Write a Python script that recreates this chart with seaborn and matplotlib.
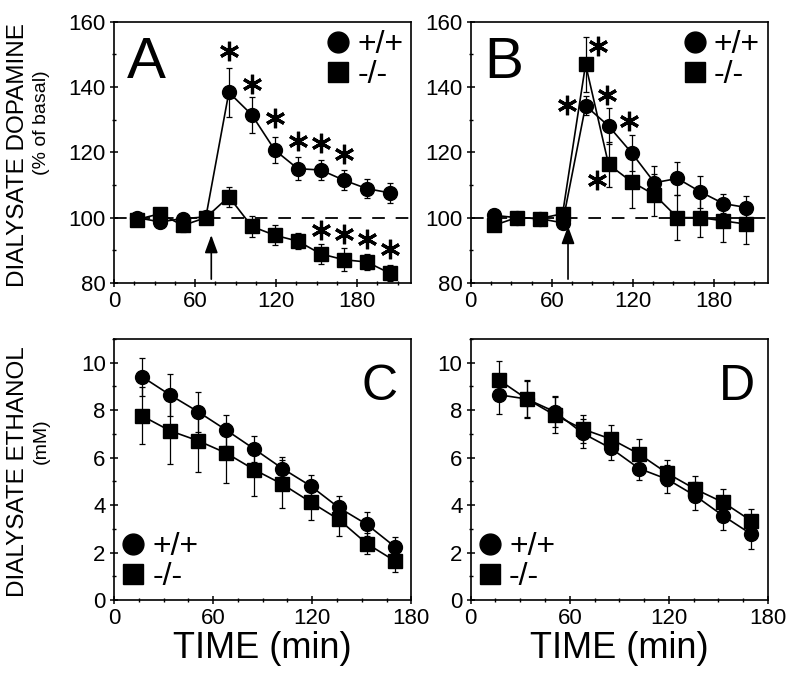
import pandas as pd
import matplotlib.pyplot as plt
import seaborn as sns
from matplotlib.ticker import MultipleLocator
from matplotlib.lines import Line2D

sns.set_style("ticks")
plt.rcParams['font.family'] = ['Liberation Sans', 'DejaVu Sans']
plt.rcParams['text.color'] = 'black'
plt.rcParams['axes.labelcolor'] = 'black'
plt.rcParams['xtick.color'] = 'black'
plt.rcParams['ytick.color'] = 'black'
plt.rcParams['axes.edgecolor'] = 'black'

# sampling times (min)
time_da = [17, 34, 51, 68, 85, 102, 119, 136, 153, 170, 187, 204]
time_etoh = [17, 34, 51, 68, 85, 102, 119, 136, 153, 170]

# panel A - dialysate dopamine (% of basal)
a_wt = [100.0, 98.7, 99.7, 100.2, 138.4, 131.5, 120.7, 115.0, 114.6, 111.5, 108.9, 107.6]
a_wt_err = [1.0, 1.2, 1.0, 1.0, 7.5, 5.5, 4.0, 3.5, 3.2, 3.0, 2.8, 3.0]
a_ko = [99.4, 101.2, 97.6, 100.0, 106.4, 97.3, 94.6, 92.8, 88.9, 87.1, 86.4, 83.0]
a_ko_err = [1.0, 1.5, 2.0, 1.0, 3.0, 3.2, 3.0, 2.5, 3.0, 3.5, 2.5, 2.5]

# panel B - dialysate dopamine (% of basal)
b_wt = [100.7, 100.0, 99.7, 98.4, 134.3, 128.1, 119.9, 110.7, 112.0, 107.9, 104.3, 103.1]
b_wt_err = [1.0, 1.0, 1.0, 1.0, 3.0, 5.5, 5.5, 5.0, 5.0, 5.0, 3.0, 3.5]
b_ko = [97.6, 100.0, 99.7, 101.2, 147.0, 116.3, 111.0, 107.0, 100.0, 100.0, 99.0, 98.0]
b_ko_err = [1.0, 1.0, 1.0, 1.0, 8.5, 7.0, 8.0, 6.5, 7.0, 6.0, 6.5, 6.0]

# panel C - dialysate ethanol (mM)
c_wt = [9.41, 8.64, 7.93, 7.16, 6.36, 5.54, 4.81, 3.90, 3.19, 2.25]
c_wt_err = [0.8, 0.9, 0.85, 0.65, 0.55, 0.5, 0.45, 0.5, 0.5, 0.4]
c_ko = [7.76, 7.13, 6.71, 6.19, 5.49, 4.88, 4.13, 3.40, 2.38, 1.65]
c_ko_err = [1.2, 1.4, 1.3, 1.25, 1.1, 1.0, 0.75, 0.7, 0.45, 0.45]

# panel D - dialysate ethanol (mM)
d_wt = [8.65, 8.47, 7.93, 7.02, 6.39, 5.54, 5.09, 4.39, 3.54, 2.77]
d_wt_err = [0.8, 0.75, 0.65, 0.6, 0.5, 0.5, 0.6, 0.6, 0.6, 0.6]
d_ko = [9.28, 8.47, 7.79, 7.20, 6.78, 6.15, 5.34, 4.67, 4.11, 3.33]
d_ko_err = [0.8, 0.8, 0.75, 0.6, 0.6, 0.65, 0.55, 0.55, 0.55, 0.5]

genotypes = ['+/+', '-/-']

# significance marks (time, level)
stars_a = [(85, 151), (102, 141), (119, 130.5), (136, 123.5), (153, 123), (170, 119.5),
           (153, 96.3), (170, 95), (187, 93.5), (204, 90.5)]
stars_b = [(71, 134.4), (94, 152.6), (100.6, 137.7), (117.5, 129.5), (93.5, 111.6)]

fig, axes = plt.subplots(2, 2, figsize=(8, 6.83), dpi=100)
fig.subplots_adjust(left=0.1425, right=0.96, bottom=0.1215, top=0.968, wspace=0.20, hspace=0.215)


def draw_panel(ax, t, wt, wt_err, ko, ko_err):
    df = pd.DataFrame({'time': t + t, 'value': wt + ko,
                       'genotype': [genotypes[0]] * len(t) + [genotypes[1]] * len(t)})
    for y, e in [(wt, wt_err), (ko, ko_err)]:
        ax.errorbar(t, y, yerr=e, fmt='none', ecolor='black', elinewidth=0.9,
                    capsize=2.5, capthick=0.9, zorder=2)
    sns.lineplot(data=df, x='time', y='value', style='genotype',
                 markers={'+/+': 'o', '-/-': 's'}, dashes=False, color='black',
                 markersize=10, linewidth=1.2, markeredgecolor='black',
                 markeredgewidth=1, legend=False, ax=ax, zorder=3)
    ax.set_xlabel('')
    ax.set_ylabel('')
    for s in ax.spines.values():
        s.set_visible(True)
        s.set_linewidth(1.2)
    ax.tick_params(which='major', direction='inout', length=6, width=1.1,
                   labelsize=16, pad=3)
    ax.tick_params(which='minor', direction='inout', length=3, width=1.0)
    ax.xaxis.set_major_locator(MultipleLocator(60))
    ax.xaxis.set_minor_locator(MultipleLocator(15))


def add_legend(ax, loc):
    handles = [Line2D([], [], marker='o', color='black', ls='none', markersize=15),
               Line2D([], [], marker='s', color='black', ls='none', markersize=15)]
    ax.legend(handles, genotypes, loc=loc, frameon=False, fontsize=23,
              handlelength=0.7, handletextpad=0.25, labelspacing=0.0,
              borderaxespad=0.15, borderpad=0.1)


panels = [(axes[0, 0], time_da, a_wt, a_wt_err, a_ko, a_ko_err, 'A', stars_a, 95.5),
          (axes[0, 1], time_da, b_wt, b_wt_err, b_ko, b_ko_err, 'B', stars_b, 98.3)]
for ax, t, wt, wte, ko, koe, letter, stars, tip in panels:
    draw_panel(ax, t, wt, wte, ko, koe)
    ax.axhline(100, color='black', lw=1.3, dashes=(7, 6), zorder=1)
    ax.set_xlim(0, 220)
    ax.set_ylim(80, 160)
    ax.yaxis.set_major_locator(MultipleLocator(20))
    ax.yaxis.set_minor_locator(MultipleLocator(10))
    ax.annotate('', xy=(72, tip), xytext=(72, 80.3),
                arrowprops=dict(arrowstyle='-|>,head_length=0.6,head_width=0.22',
                                color='black', lw=1.2, mutation_scale=18))
    sx, sy = zip(*stars)
    ax.plot(sx, sy, ls='none', marker=(6, 2, 0), markersize=14,
            markeredgewidth=2.3, color='black', zorder=4)
    ax.text(0.045, 0.785, letter, transform=ax.transAxes, fontsize=42,
            ha='left', va='baseline')
    add_legend(ax, 'upper right')

for ax, wt, wte, ko, koe, letter in [(axes[1, 0], c_wt, c_wt_err, c_ko, c_ko_err, 'C'),
                                     (axes[1, 1], d_wt, d_wt_err, d_ko, d_ko_err, 'D')]:
    draw_panel(ax, time_etoh, wt, wte, ko, koe)
    ax.set_xlim(0, 180)
    ax.set_ylim(0, 11)
    ax.yaxis.set_major_locator(MultipleLocator(2))
    ax.yaxis.set_minor_locator(MultipleLocator(1))
    ax.set_xlabel('TIME (min)', fontsize=26, labelpad=1)
    ax.text(0.955, 0.766, letter, transform=ax.transAxes, fontsize=36,
            ha='right', va='baseline')
    add_legend(ax, 'lower left')

fig.text(0.022, 0.773, 'DIALYSATE DOPAMINE', rotation=90, fontsize=17.5,
         ha='center', va='center')
fig.text(0.052, 0.82, '(% of basal)', rotation=90, fontsize=14,
         ha='center', va='center')
fig.text(0.022, 0.31, 'DIALYSATE ETHANOL', rotation=90, fontsize=17.5,
         ha='center', va='center')
fig.text(0.052, 0.354, '(mM)', rotation=90, fontsize=14,
         ha='center', va='center')

fig.savefig('out.png', dpi=100)
